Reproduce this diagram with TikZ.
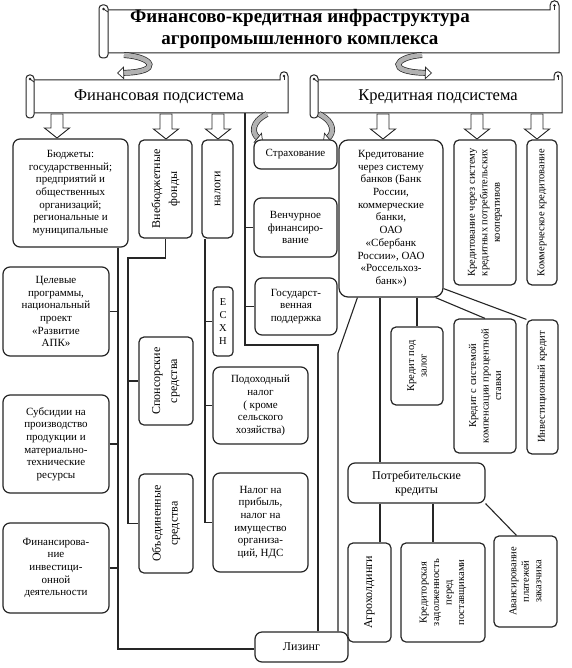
\documentclass[tikz,border=0pt]{standalone}
\usepackage{fontspec}
\setmainfont{Liberation Serif}
\usetikzlibrary{arrows.meta,calc}
\newcommand\hscroll[5]{%
  \pgfmathsetmacro\xa{#1}\pgfmathsetmacro\ya{#2}\pgfmathsetmacro\xb{#3}\pgfmathsetmacro\yb{#4}\pgfmathsetmacro\dd{#5}%
  \draw[sc] (\xa+\dd/2,\ya) -- (\xb-\dd,\ya) -- (\xb-\dd,\ya-\dd/2)
     .. controls (\xb-\dd,\ya-\dd*1.2) and (\xb,\ya-\dd*1.2) .. (\xb,\ya-\dd/2)
     -- (\xb,\yb) -- (\xa+\dd/2,\yb) -- cycle;
  \fill[black!85] (\xb-\dd/2,\ya-\dd/2) circle (1.4);
  \draw[line width=0.8pt,black!85] (\xb-\dd/2,\ya-\dd/2) -- (\xb-\dd/2,\ya);
  \draw[sc, rounded corners=3.5pt] (\xa,\ya-5) rectangle (\xa+\dd,\yb+5);
  \fill[black!85] (\xa+\dd/2,\ya-1) circle (1.4);
  \draw[line width=0.8pt,black!85] (\xa+\dd/2,\ya-1) -- (\xa+\dd,\ya+2);
}
\newcommand\dnarr[3]{%
  \draw[blk] (#1-6,#2) -- (#1+6,#2) -- (#1+6,#3-10) -- (#1+12.5,#3-10) -- (#1,#3)
    -- (#1-12.5,#3-10) -- (#1-6,#3-10) -- cycle;}
\begin{document}
\begin{tikzpicture}[x=1pt,y=-1pt,
  ln/.style={line width=1.1pt, draw=black!85},
  sc/.style={line width=1pt, draw=black!85, fill=white},
  box/.style={draw=black!85, line width=1.2pt, rounded corners=7pt, fill=white, inner sep=1pt, align=center, font=\fontsize{11}{12.7}\selectfont},
  sbox/.style={box, rounded corners=5pt},
  vt/.style={rotate=90, align=center, inner sep=0pt, font=\fontsize{10.5}{12.5}\selectfont},
  vtb/.style={vt, font=\fontsize{12}{17}\selectfont},
  carr/.style={draw=black!85, line width=0.7pt, double=black!30, double distance=4.5pt, -{Triangle[length=7pt,width=13pt,fill=white]}},
  blk/.style={line width=0.9pt, draw=black!85, fill=white}
]
\useasboundingbox (0,0) rectangle (571,668);
\fill[white] (0,0) rectangle (571,668);

% ---------- banners ----------
\hscroll{99}{10}{559}{53}{9}
\node[font=\fontsize{19}{22.5}\selectfont\bfseries, align=center] (title) at (300,29) {Финансово-кредитная инфраструктура\\агропромышленного комплекса};

\hscroll{26}{80}{288}{113}{8}
\node[font=\fontsize{16.5}{18}\selectfont, minimum width=258pt, minimum height=33pt, inner sep=0pt] (finb) at (159,96.5) {Финансовая подсистема};

\hscroll{310}{80}{562}{113}{8}
\node[font=\fontsize{16.5}{18}\selectfont, minimum width=248pt, minimum height=33pt, inner sep=0pt] (kreb) at (438,96.5) {Кредитная подсистема};

% curved arrows
\draw[carr] (124,55) .. controls (154,57) and (162,72) .. (117,73);
\draw[carr] (422,55) .. controls (394,57) and (386,72) .. (432,73);
\draw[carr] (267,114) .. controls (251,122) and (252,133) .. (263,142);
\draw[carr] (319,114) .. controls (335,122) and (334,133) .. (323,142);

% down block arrows
\dnarr{57}{114}{138}
\dnarr{166}{114}{139}
\dnarr{218}{114}{139}
\dnarr{383}{114}{139}
\dnarr{477}{114}{139}
\dnarr{537}{114}{139}

% ---------- financial boxes ----------
\node[box, minimum width=115pt, minimum height=108pt] (bud) at (70.5,193)
  {Бюджеты:\\государственный;\\предприятий и\\общественных\\организаций;\\региональные и\\муниципальные};
\node[box, minimum width=106pt, minimum height=89pt] (cel) at (56,311.5)
  {Целевые\\программы,\\национальный\\проект\\«Развитие\\АПК»};
\node[box, minimum width=106pt, minimum height=98pt] (sub) at (56,444)
  {Субсидии на\\производство\\продукции и\\материально-\\технические\\ресурсы};
\node[box, minimum width=106pt, minimum height=90pt] (fin) at (56,568)
  {Финансирова-\\ние\\инвестици-\\онной\\деятельности};

\node[sbox, minimum width=53pt, minimum height=98pt] (vneb) at (165.5,189) {};
\node[vtb] at (vneb) {Внебюджетные\\фонды};
\node[sbox, minimum width=31pt, minimum height=98pt] (nal) at (217.5,189) {};
\node[vtb] at (nal) {налоги};
\node[sbox, minimum width=54pt, minimum height=88pt] (spon) at (166,381) {};
\node[vtb] at (spon) {Спонсорские\\средства};
\node[sbox, minimum width=54pt, minimum height=99pt] (obj) at (166,523.5) {};
\node[vtb] at (obj) {Объединенные\\средства};

\node[sbox, rounded corners=4pt, minimum width=20pt, minimum height=69pt, font=\fontsize{10.5}{13}\selectfont] (esxn) at (223,321.5) {Е\\С\\Х\\Н};
\node[box, minimum width=95pt, minimum height=77pt] (podo) at (260.5,405.5)
  {Подоходный\\налог\\( кроме\\сельского\\хозяйства)};
\node[box, minimum width=95pt, minimum height=99pt] (nalp) at (260.5,522.5)
  {Налог на\\прибыль,\\налог на\\имущество\\организа-\\ций, НДС};

\node[box, minimum width=83pt, minimum height=29pt] (strah) at (295.5,154.5) {Страхование};
\node[box, minimum width=83pt, minimum height=59pt] (venc) at (295.5,227.5) {Венчурное\\финансиро-\\вание};
\node[box, minimum width=82pt, minimum height=57pt] (gos) at (296,306.5) {Государст-\\венная\\поддержка};

\node[box, minimum width=93pt, minimum height=30pt, font=\fontsize{12}{14}\selectfont] (liz) at (301.5,647) {Лизинг};

% ---------- credit boxes ----------
\node[box, rounded corners=9pt, minimum width=104pt, minimum height=157pt] (kred) at (391,218.5)
  {Кредитование\\через систему\\банков (Банк\\России,\\коммерческие\\банки,\\ОАО\\«Сбербанк\\России», ОАО\\«Россельхоз-\\банк»)};
\node[sbox, minimum width=62pt, minimum height=145pt] (kpk) at (485,212.5) {};
\node[vt] at (kpk) {Кредитование через систему\\кредитных потребительских\\кооперативов};
\node[sbox, minimum width=30pt, minimum height=145pt] (kom) at (542,212.5) {};
\node[vt] at (kom) {Коммерческое кредитование};

\node[sbox, minimum width=52pt, minimum height=78pt] (zalog) at (417,366) {};
\node[vt] at (zalog) {Кредит под\\залог};
\node[sbox, minimum width=62pt, minimum height=134pt] (komp) at (485,386) {};
\node[vt] at (komp) {Кредит с системой\\компенсации процентной\\ставки};
\node[sbox, minimum width=31pt, minimum height=134pt] (inv) at (542.5,387) {};
\node[vt] at (inv) {Инвестиционный кредит};

\node[box, minimum width=137pt, minimum height=40pt, font=\fontsize{12}{14}\selectfont] (potr) at (416.5,483) {Потребительские\\кредиты};
\node[sbox, minimum width=43pt, minimum height=99pt] (agro) at (369.5,592.5) {};
\node[vtb] at (agro) {Агрохолдинги};
\node[sbox, minimum width=84pt, minimum height=99pt] (kredz) at (443,592.5) {};
\node[vt] at (kredz) {Кредиторская\\задолженность\\перед\\поставщиками};
\node[sbox, minimum width=63pt, minimum height=91pt] (avans) at (525.5,581.5) {};
\node[vt] at (avans) {Авансирование\\платежей\\заказчика};

% ---------- connectors ----------
\coordinate (t1) at (118,649);
\draw[ln] (bud.south -| t1) -- (t1) -- (t1 -| liz.west);
\foreach \b in {cel,sub,fin} \draw[ln] (\b.east) -- (\b.east -| t1);

\coordinate (t2) at (128,258);
\draw[ln] (vneb.south) |- (t2) -- (t2 |- obj.west) -- (obj.west);
\draw[ln] (spon.west) -- (spon.west -| t2);

\coordinate (t3) at (205,0);
\draw[ln] (nal.south -| t3) -- (t3 |- nalp.west) -- (nalp.west);
\draw[ln] (esxn.west) -- (esxn.west -| t3);
\draw[ln] (podo.west) -- (podo.west -| t3);

\coordinate (t4) at (245,345);
\coordinate (t4b) at (318,345);
\draw[ln] (t4 |- finb.south) -- (t4) -- (t4b) -- (t4b |- liz.north);
\draw[ln] (venc.west) -- (venc.west -| t4);
\draw[ln] (gos.west) -- (gos.west -| t4);

\coordinate (k1) at (338,353);
\coordinate (k2) at (380,0);
\coordinate (k3) at (433,0);
\draw[ln] ($(kred.south west)+(19,0)$) -- (k1) -- (k1 |- liz.north);
\draw[ln] (kred.south -| k2) -- (potr.north -| k2);
\draw[ln] (kred.south -| zalog.north) -- (zalog.north);
\draw[ln] ($(kred.south east)+(-8,0)$) -- (komp.north);
\draw[ln] ($(kred.south east)+(0,-9)$) -- (inv.north west);

\draw[ln] (potr.south -| k2) -- (agro.north -| k2);
\draw[ln] (potr.south -| k3) -- (kredz.north -| k3);
\draw[ln] (potr.south east) -- ($(avans.north west)+(23,0)$);
\end{tikzpicture}
\end{document}
